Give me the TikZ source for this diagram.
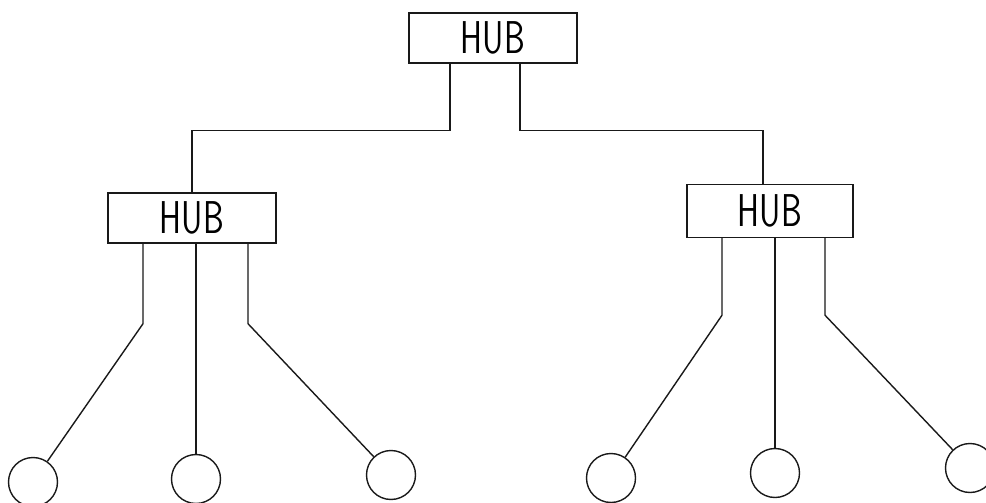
\documentclass[tikz,border=0pt]{standalone}
\usepackage{graphicx}
\tikzset{
  ink/.style={draw=black!90, line width=1.4pt},
  hubbox/.style={ink, rectangle, minimum width=168pt, minimum height=50pt, inner sep=0pt,
    font=\sffamily\fontsize{46}{46}\selectfont},
  station/.style={ink, circle, minimum size=49pt, inner sep=0pt},
  wire/.style={ink}
}
\newcommand{\hubtext}{\scalebox{0.72}[1]{HUB}}
\begin{document}
\begin{tikzpicture}[x=1pt, y=-1pt]
  \useasboundingbox (0,0) rectangle (986,503);
  \clip (0,0) rectangle (986,503);

  % hubs
  \node[hubbox] (top) at (493,38) {\hubtext};
  \node[hubbox] (lh) at (192,218) {\hubtext};
  \node[hubbox, minimum width=166pt, minimum height=53pt] (rh) at (770,211) {\hubtext};

  % stations
  \node[station] (c1) at (33,482) {};
  \node[station] (c2) at (196,479) {};
  \node[station] (c3) at (391,475) {};
  \node[station] (c4) at (611,478) {};
  \node[station] (c5) at (775,473) {};
  \node[station] (c6) at (970,468) {};

  % backbone from the top hub
  \draw[wire] ([xshift=-43pt]top.south) -- ++(0,67) -| (lh.north);
  \draw[wire] ([xshift=27pt]top.south) -- ++(0,67) -| ([xshift=-7pt]rh.north);

  % left hub drops
  \draw[wire] ([xshift=-49pt]lh.south) -- ++(0,80) -- (c1);
  \draw[wire] (lh.south -| c2.north) -- (c2.north);
  \draw[wire] ([xshift=56pt]lh.south) -- ++(0,80) -- (c3);

  % right hub drops
  \draw[wire] ([xshift=-48pt]rh.south) -- ++(0,77) -- (c4);
  \draw[wire] (rh.south -| c5.north) -- (c5.north);
  \draw[wire] ([xshift=55pt]rh.south) -- ++(0,77) -- (c6);
\end{tikzpicture}
\end{document}
